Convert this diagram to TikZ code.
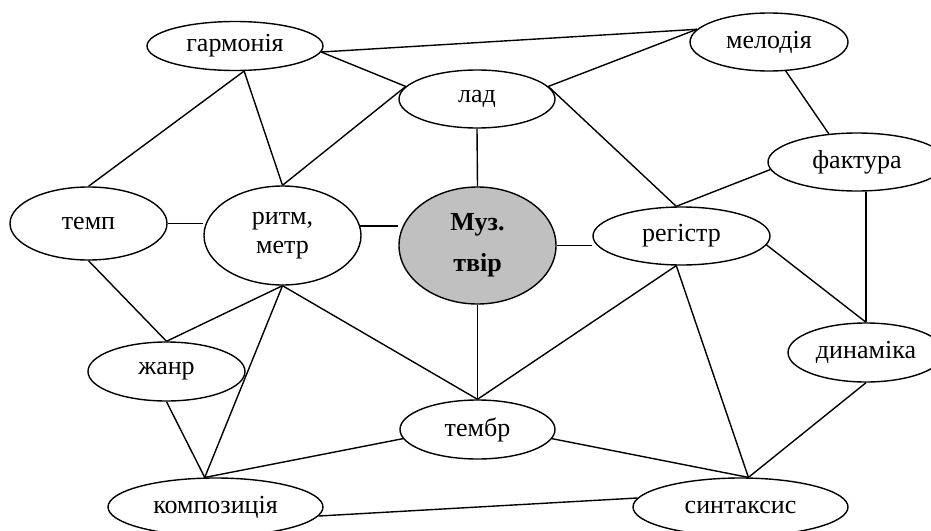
\documentclass[tikz,border=0pt]{standalone}
\usepackage{fontspec}
\setmainfont{Liberation Serif}
\usetikzlibrary{shapes.geometric}
\definecolor{muzgray}{HTML}{C0C0C0}
\tikzset{
  el/.style={ellipse, draw, line width=1.4pt, inner sep=0pt, font=\fontsize{26}{29}\selectfont, align=center},
  conn/.style={line width=1.4pt}
}
\begin{document}
\begin{tikzpicture}[x=1pt,y=-1pt]
\useasboundingbox (0,0) rectangle (931,530);
\clip (0,0) rectangle (931,530);
\node[el, minimum width=176pt, minimum height=49pt] (garm) at (235,46) {гармонія};
\node[el, minimum width=156pt, minimum height=58pt] (lad) at (477,99) {лад};
\node[el, minimum width=158pt, minimum height=58pt] (mel) at (769,42) {мелодія};
\node[el, minimum width=178pt, minimum height=58pt] (fakt) at (857,162) {фактура};
\node[el, minimum width=157pt, minimum height=73pt] (temp) at (88.5,223.5) {темп};
\node[el, minimum width=157pt, minimum height=99pt] (ritm) at (282.5,235.5) {ритм,\\метр};
\node[el, fill=muzgray, minimum width=157pt, minimum height=117pt] (muz) at (477.5,245.5) {\textbf{Муз.}\\[12pt]\textbf{твір}};
\node[el, minimum width=177pt, minimum height=58pt] (reg) at (681.5,236) {регістр};
\node[el, minimum width=156pt, minimum height=59pt] (dyn) at (866,352.5) {динаміка};
\node[el, minimum width=157pt, minimum height=59pt] (zhanr) at (166.5,371.5) {жанр};
\node[el, minimum width=155pt, minimum height=59pt] (tembr) at (477.5,429.5) {тембр};
\node[el, minimum width=215pt, minimum height=58pt] (komp) at (215.5,507) {композиція};
\node[el, minimum width=215pt, minimum height=58pt] (sint) at (740.5,507) {синтаксис};

\draw[conn] (garm.-4) -- (mel.170);
\draw[conn] (garm.-4) -- (lad.170);
\draw[conn] (ritm.north) -- (lad.170);
\draw[conn] (lad.10) -- (mel.170);
\draw[conn] (lad.10) -- (reg.100);
\draw[conn] (mel.-60) -- (fakt.135);
\draw[conn] (fakt.185) -- (reg.100);
\draw[conn] (dyn.north |- fakt.south) -- (dyn.north);
\draw[conn] (reg.-6) -- (dyn.north);
\draw[conn] (lad.south) -- (muz.north);
\draw[conn] (garm.-70) -- (temp.north);
\draw[conn] (garm.-70) -- (ritm.north);
\draw[conn] (temp.east) -- (temp.east -| ritm.west);
\draw[conn] (ritm.7) -- (ritm.7 -| muz.west);
\draw[conn] (muz.east) -- (muz.east -| reg.west);
\draw[conn] (temp.south) -- (zhanr.north);
\draw[conn] (ritm.south) -- (zhanr.north);
\draw[conn] (ritm.south) -- (komp.110);
\draw[conn] (ritm.south) -- (tembr.north);
\draw[conn] (zhanr.south) -- (komp.110);
\draw[conn] (tembr.187) -- (komp.110);
\draw[conn] (komp.-5) -- (sint.175);
\draw[conn] (muz.south) -- (tembr.north);
\draw[conn] (reg.-100) -- (tembr.north);
\draw[conn] (reg.-100) -- (sint.75);
\draw[conn] (tembr.-7) -- (sint.75);
\draw[conn] (dyn.south) -- (sint.75);
\end{tikzpicture}
\end{document}
